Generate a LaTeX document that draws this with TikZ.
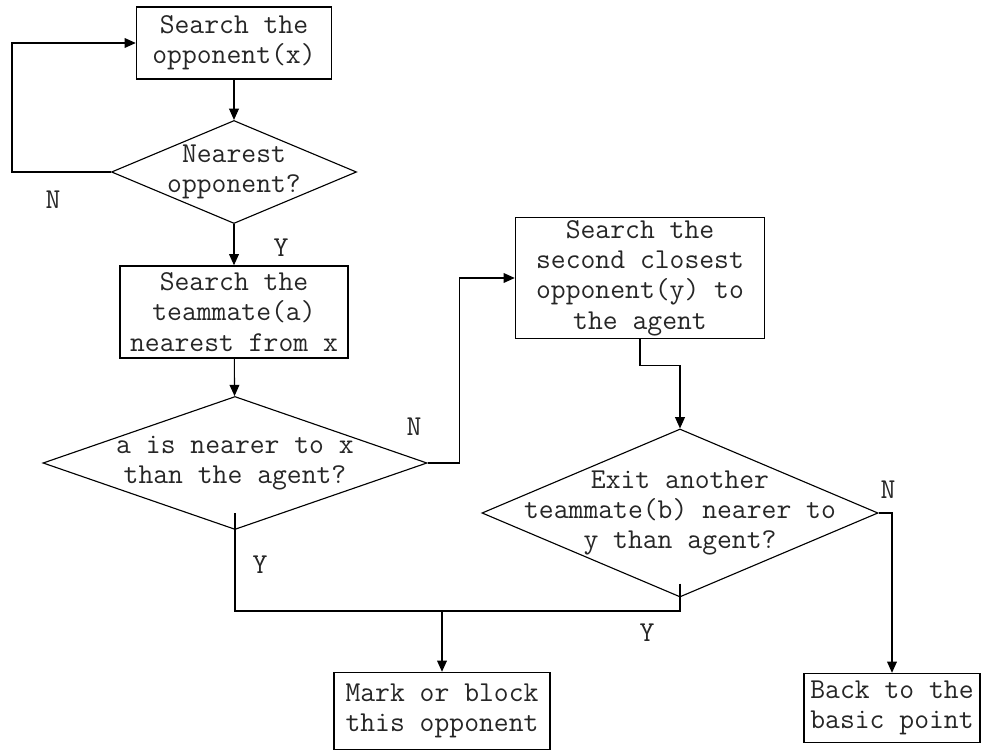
\documentclass[tikz,border=0pt]{standalone}
\usepackage{fontspec}
\usetikzlibrary{shapes.geometric,arrows.meta}
\begin{document}
\begin{tikzpicture}[
x=0.025cm,y=-0.025cm,
every node/.style={font=\ttfamily\fontsize{20.5}{21.5}\selectfont,text=black!85},
box/.style={rectangle,draw=black,line width=1pt,align=center,inner sep=2pt},
decision/.style={diamond,draw=black,line width=0.8pt,inner sep=0pt},
link/.style={draw=black,line width=0.8pt},
arrow/.style={link,-{Triangle[length=8pt,width=7pt]}}
]
\useasboundingbox (0,0) rectangle (981,754);
% left column
\node[box,minimum width=4.875cm,minimum height=1.8cm] (1) at (234,43) {Search the\\opponent(x)};
\node[decision,minimum width=6.125cm,minimum height=2.575cm,
    label={[align=center]center:Nearest\\opponent?}] (2) at (234,172) {};
\node[box,minimum width=5.7cm,minimum height=2.3cm] (3) at (234,312) {Search the\\teammate(a)\\nearest from x};
\node[decision,minimum width=9.6cm,minimum height=3.325cm,
    label={[align=center]center:a is nearer to x\\than the agent?}] (4) at (235,463) {};
\node[box,minimum width=5.4cm,minimum height=1.925cm] (5) at (442,711) {Mark or block\\this opponent};
% right column
\node[box,minimum width=6.225cm,minimum height=3cm] (6) at (640,278) {Search the\\second closest\\opponent(y) to\\the agent};
\node[decision,minimum width=9.9cm,minimum height=4.2cm,
    label={[align=center]center:Exit another\\teammate(b) nearer to\\y than agent?}] (7) at (680,513) {};
\node[box,minimum width=4.4cm,minimum height=1.725cm] (8) at (892,708) {Back to the\\basic point};
% yes/no marks
\node (n1) at (53,200) {N};
\node (y1) at (281,248) {Y};
\node (n2) at (414,427) {N};
\node (y2) at (260,565) {Y};
\node (n3) at (888,490) {N};
\node (y3) at (647,633) {Y};
\coordinate (loop) at (12,43);
\coordinate (merge) at (442,611);
\draw[arrow] (1) -- (2);
\draw[arrow] (2.west) -| (loop) -- (1.west);
\draw[arrow] (2) -- (3);
\draw[arrow] (3) -- (4);
\draw[arrow] (4.east) -- ++(32,0) |- (6.west);
\draw[arrow] (6.south) -- ++(0,26) -| (7.north);
\draw[arrow] (7.east) -| (8.north);
\draw[link] ([yshift=12pt]4.south) |- (merge);
\draw[link] ([yshift=10pt]7.south) |- (merge);
\draw[arrow] (merge) -- (5.north);
\end{tikzpicture}
\end{document}
